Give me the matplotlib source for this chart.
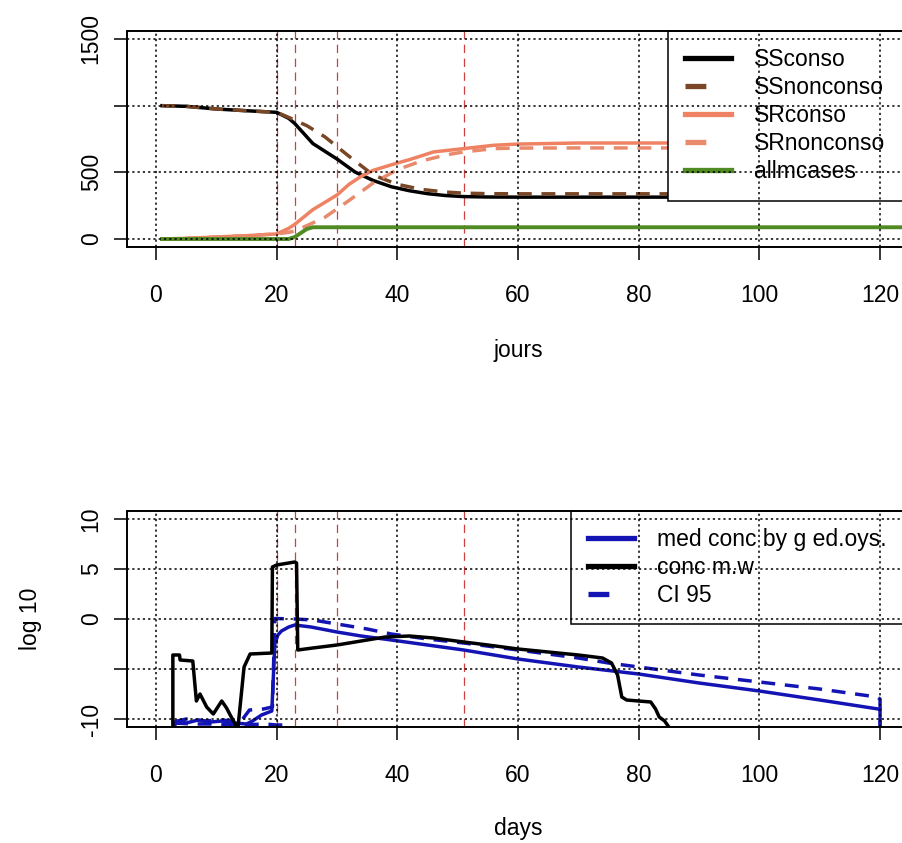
import numpy as np
import matplotlib
matplotlib.use("Agg")
import matplotlib.pyplot as plt
from matplotlib.lines import Line2D

plt.rcParams['font.family'] = ['Liberation Sans', 'DejaVu Sans']
plt.rcParams['lines.scale_dashes'] = False

# ---- top panel data ----
ss_conso_days = [1, 5, 10, 15, 20, 22, 23, 26, 30, 33, 36, 39, 42, 45, 48, 51, 55, 60, 125]
ss_conso = [1000, 995, 975, 962, 950, 905, 866, 716, 600, 502, 439, 392, 362, 340, 326, 318, 315, 314, 314]

ss_nonconso_days = [1, 5, 10, 15, 20, 22, 23, 25, 28, 32, 36, 40, 44, 48, 51, 55, 60, 125]
ss_nonconso = [1000, 995, 975, 962, 950, 912, 891, 850, 766, 620, 480, 410, 372, 352, 344, 340, 339, 339]

sr_conso_days = [1, 5, 10, 15, 20, 22, 23, 26, 28, 30, 32, 34, 36, 40, 42, 46, 51, 56, 60, 70, 125]
sr_conso = [0, 5, 15, 25, 38, 80, 110, 220, 275, 330, 410, 470, 515, 570, 595, 653, 678, 703, 712, 720, 720]

sr_nonconso_days = [1, 5, 10, 15, 20, 22, 23, 25, 28, 32, 36, 40, 44, 48, 51, 56, 60, 70, 125]
sr_nonconso = [0, 5, 15, 25, 38, 50, 60, 100, 163, 289, 420, 520, 585, 630, 653, 678, 682, 683, 683]

allm_days = [1, 22, 23, 24, 25, 26, 125]
allm_cases = [0, 0, 15, 45, 75, 88, 88]

# ---- bottom panel data (log10 concentrations) ----
med_days = [2.8, 3.5, 5, 7, 9, 11, 13, 15, 16, 17.5, 19.2, 19.7, 20.2, 20.8, 22, 23, 25.7,
            30, 34, 39, 45, 51, 60, 70, 80, 90, 100, 110, 119.7, 120, 120.01]
med_conc = [-11, -10.2, -10.4, -10.1, -10.3, -10.2, -10.4, -10.5, -10.2, -9.6, -9.2, -2.5, -1.6,
            -1.2, -0.8, -0.6, -0.8, -1.3, -1.7, -2.1, -2.6, -3.1, -4.0, -4.8, -5.5, -6.4, -7.2,
            -8.1, -9.0, -9.0, -11]

mw_days = [2.8, 2.8, 3.9, 4.0, 6.1, 6.7, 7.3, 8.4, 9.5, 10.9, 11.7, 12.3, 13.4, 13.6, 14.6, 15.6,
           19.2, 19.3, 20.0, 23.0, 23.3, 23.5, 26, 30, 34, 38, 42, 46, 51, 55, 60, 65, 70, 74,
           75.5, 76.5, 77.2, 78, 82, 82.8, 83.4, 84.3, 85, 85.3]
mw_conc = [-11, -3.6, -3.6, -4.1, -4.2, -8.2, -7.5, -8.8, -9.5, -8.2, -8.9, -9.6, -10.8, -10.8,
           -4.8, -3.5, -3.4, 5.2, 5.4, 5.7, 5.6, -3.1, -2.9, -2.6, -2.2, -1.8, -1.7, -1.9, -2.3,
           -2.6, -3.0, -3.3, -3.6, -3.9, -4.4, -5.6, -7.8, -8.1, -8.3, -9.0, -9.8, -10.2, -10.8, -11.5]

ci_up_days = [3, 5, 8, 11, 14, 15.5, 17.8, 19.3, 19.7, 23, 26, 30, 35, 39, 45, 51, 60, 70, 75,
              80, 90, 100, 110, 119.5, 120, 120.01]
ci_up = [-10.3, -10.0, -10.2, -10.1, -10.3, -9.1, -9.0, -8.8, 0.05, 0.0, -0.1, -0.5, -1.0, -1.5,
         -2.0, -2.4, -3.1, -3.9, -4.4, -4.8, -5.6, -6.3, -7.0, -7.8, -8.0, -11]

ci_low_days = [3, 6, 10, 14, 18, 20, 21.5, 21.6]
ci_low = [-10.4, -10.5, -10.5, -10.6, -10.5, -10.6, -10.6, -12]

event_days = [20, 23, 30, 51]
x_ticks = [0, 20, 40, 60, 80, 100, 120]

top_labels = ['SSconso', 'SSnonconso', 'SRconso', 'SRnonconso', 'allmcases']
bot_labels = ['med conc by g ed.oys.', 'conc m.w', 'CI 95']

col_ss = 'black'
col_ssn = '#7a4726'
col_sr = '#ee8262'
col_srn = '#e98a6c'
col_allm = '#4f8a22'
col_blue = '#1414b4'
col_event = '#cc4040'

FS = 16.5
DASH = (10, 7)
LW = 2.5

fig = plt.figure(figsize=(9.03, 8.43), dpi=100)
ax1 = fig.add_axes([127 / 903, 1 - 247 / 843, 782 / 903, 216 / 843])
ax2 = fig.add_axes([127 / 903, 1 - 727 / 843, 782 / 903, 216 / 843])


def style_axes(ax):
    ax.set_xlim(-4.8, 124.8)
    ax.set_xticks(x_ticks)
    ax.tick_params(direction='out', length=9.5, width=1.1, labelsize=FS, color='black')
    ax.tick_params(axis='x', pad=17)
    ax.tick_params(axis='y', pad=8)
    for s in ax.spines.values():
        s.set_linewidth(1.4)
    ax.grid(True, color='black', linestyle=(0, (1.6, 2.2)), linewidth=1.1)
    ax.set_axisbelow(False)
    for d in event_days:
        ax.axvline(d, color=col_event, linestyle=(0, (6, 4)), linewidth=0.9, zorder=1.2)


def make_legend(ax, handles, labels, x0):
    leg = ax.legend(handles, labels, loc='upper left', bbox_to_anchor=(x0, 1.0),
                    borderaxespad=0, fontsize=FS, fancybox=False, framealpha=1,
                    edgecolor='black', handlelength=2.0, handletextpad=1.0,
                    borderpad=0.75, labelspacing=0.22)
    leg.get_frame().set_linewidth(1.1)
    leg.set_zorder(2)
    return leg


# top panel
ax1.plot(ss_conso_days, ss_conso, color=col_ss, lw=LW, zorder=1.5)
ax1.plot(ss_nonconso_days, ss_nonconso, color=col_ssn, lw=LW, dashes=DASH, zorder=1.5)
ax1.plot(sr_conso_days, sr_conso, color=col_sr, lw=LW, zorder=1.5)
ax1.plot(sr_nonconso_days, sr_nonconso, color=col_srn, lw=LW, dashes=DASH, zorder=1.5)
ax1.plot(allm_days, allm_cases, color=col_allm, lw=LW + 0.3, zorder=1.5)
ax1.set_ylim(-60, 1560)
ax1.set_yticks([0, 500, 1000, 1500])
ax1.set_yticklabels(['0', '500', '', '1500'])
style_axes(ax1)
plt.setp(ax1.get_yticklabels(), rotation=90, va='center')
ax1.set_xlabel('jours', fontsize=FS)
ax1.xaxis.set_label_coords(0.5, -0.477)
ax1.xaxis.label.set_va('center')

h_top = [Line2D([], [], color=col_ss, lw=3.8),
         Line2D([], [], color=col_ssn, lw=3.8, dashes=(15, 30)),
         Line2D([], [], color=col_sr, lw=3.8),
         Line2D([], [], color=col_srn, lw=3.8, dashes=(15, 30)),
         Line2D([], [], color=col_allm, lw=3.8)]
make_legend(ax1, h_top, top_labels, 0.692)

# bottom panel
ax2.plot(ci_low_days, ci_low, color=col_blue, lw=LW, dashes=DASH, zorder=1.5)
ax2.plot(ci_up_days, ci_up, color=col_blue, lw=LW, dashes=DASH, zorder=1.5)
ax2.plot(med_days, med_conc, color=col_blue, lw=LW, zorder=1.6)
ax2.plot(mw_days, mw_conc, color='black', lw=LW, zorder=1.7)
ax2.set_ylim(-10.8, 10.8)
ax2.set_yticks([-10, -5, 0, 5, 10])
ax2.set_yticklabels(['-10', '', '0', '5', '10'])
style_axes(ax2)
plt.setp(ax2.get_yticklabels(), rotation=90, va='center')
ax2.set_xlabel('days', fontsize=FS)
ax2.xaxis.set_label_coords(0.5, -0.468)
ax2.xaxis.label.set_va('center')
ax2.set_ylabel('log 10', fontsize=FS)
ax2.yaxis.set_label_coords(-0.124, 0.5)
ax2.yaxis.label.set_va('center')

h_bot = [Line2D([], [], color=col_blue, lw=3.8),
         Line2D([], [], color='black', lw=3.8),
         Line2D([], [], color=col_blue, lw=3.8, dashes=(15, 30))]
make_legend(ax2, h_bot, bot_labels, 0.568)

fig.savefig('out.png', dpi=100)
